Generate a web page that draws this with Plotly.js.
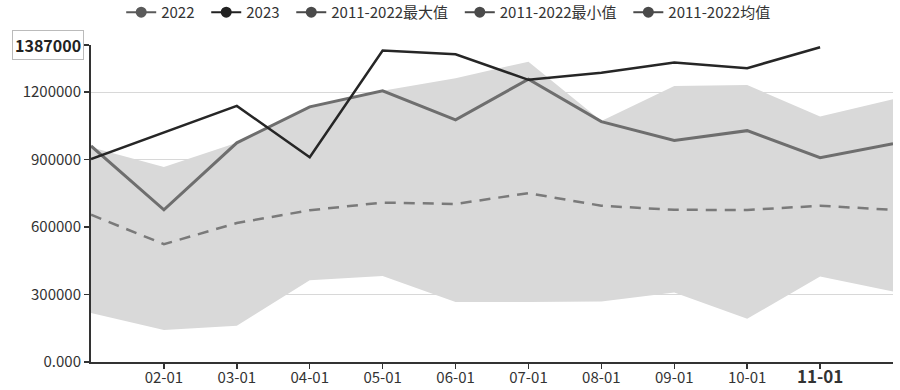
<!DOCTYPE html>
<html><head><meta charset="utf-8">
<script src="https://cdn.plot.ly/plotly-3.0.1.min.js"></script>
<style>html,body{margin:0;padding:0;background:#fff}#c{width:900px;height:390px}</style>
</head><body><div id="c"></div>
<script>
const months = ['01-01','02-01','03-01','04-01','05-01','06-01','07-01','08-01','09-01','10-01','11-01','12-01'];
const tickMonths = ['02-01','03-01','04-01','05-01','06-01','07-01','08-01','09-01','10-01','11-01'];
const tickLabels = ['02-01','03-01','04-01','05-01','06-01','07-01','08-01','09-01','10-01','<span style="font-size:17px;font-weight:bold">11-01</span>'];
const s2022 = [961000,677000,975000,1135000,1206000,1077000,1258000,1069000,985000,1029000,909000,971000];
const s2023 = [903000,1022000,1139000,911000,1385000,1369000,1255000,1287000,1332000,1307000,1400000,null];
const sMax  = [955000,867000,975000,1138000,1206000,1262000,1336000,1072000,1228000,1232000,1092000,1169000];
const sMin  = [218000,142000,161000,364000,383000,267000,267000,269000,309000,192000,380000,314000];
const sMean = [655000,524000,618000,675000,709000,703000,751000,695000,677000,676000,695000,677000];
const yTicks = [0,300000,600000,900000,1200000,1410000];
const yTickLabels = ['0.000','300000','600000','900000','1200000',''];
const legendNames = ['2022','2023','2011-2022最大值','2011-2022最小值','2011-2022均值'];
const legendColors = ['#5a5a5a','#222222','#4a4a4a','#4a4a4a','#4a4a4a'];
const pointerLabel = '1387000';

const FONT = "'Noto Sans CJK SC','Noto Sans',sans-serif";
const traces = [
  {x: months, y: sMin, type:'scatter', mode:'lines', line:{width:0, color:'#d9d9d9'}, showlegend:false, hoverinfo:'skip'},
  {x: months, y: sMax, type:'scatter', mode:'lines', line:{width:0, color:'#d9d9d9'}, fill:'tonexty', fillcolor:'#d9d9d9', showlegend:false, hoverinfo:'skip'},
  {x: months, y: sMean, type:'scatter', mode:'lines', line:{width:2.5, color:'#7a7a7a', dash:'11px,8px'}, showlegend:false},
  {x: months, y: s2022, type:'scatter', mode:'lines', line:{width:3, color:'#6e6e6e'}, showlegend:false},
  {x: months, y: s2023, type:'scatter', mode:'lines', line:{width:2.5, color:'#262626'}, showlegend:false, connectgaps:false},
];
legendNames.forEach((n,i)=>{
  const label = i < legendNames.length-1 ? n + '\u00a0\u00a0' : n;
  traces.push({x:[null], y:[null], type:'scatter', mode:'lines+markers', name:label,
    line:{color:legendColors[i], width:2}, marker:{color:legendColors[i], size:11}, showlegend:true});
});

const layout = {
  width:900, height:390,
  margin:{l:91, r:7, t:45, b:28},
  paper_bgcolor:'#fff', plot_bgcolor:'#fff',
  font:{family:FONT, color:'#333', size:15},
  showlegend:true,
  legend:{orientation:'h', xref:'container', x:0.498, xanchor:'center', yref:'container', y:0.968, yanchor:'middle',
    font:{size:15, color:'#333', family:FONT}, itemwidth:30, traceorder:'normal'},
  xaxis:{type:'category', categoryorder:'array', categoryarray:months, range:[0,11],
    tickmode:'array', tickvals:tickMonths, ticktext:tickLabels,
    ticks:'outside', ticklen:5, tickwidth:1.5, tickcolor:'#333', ticklabelstandoff:-4,
    showline:true, linecolor:'#333', linewidth:2, showgrid:false, zeroline:false,
    tickfont:{size:15, color:'#333', family:FONT}},
  yaxis:{range:[0,1410000], tickmode:'array', tickvals:yTicks, ticktext:yTickLabels,
    ticks:'outside', ticklen:5, tickwidth:1.5, tickcolor:'#333',
    showline:true, linecolor:'#333', linewidth:2, showgrid:true, gridcolor:'#d8d8d8', gridwidth:1, zeroline:false,
    tickfont:{size:15, color:'#333', family:FONT}},
  annotations:[{xref:'paper', x:0, xanchor:'right', xshift:-7, yref:'y', y:1410000, yanchor:'middle',
    text:'<b>'+pointerLabel+'</b>', showarrow:false, font:{size:16, color:'#222', family:FONT},
    bgcolor:'#fff', bordercolor:'#bbb', borderwidth:1, borderpad:2}]
};
Plotly.newPlot('c', traces, layout, {displayModeBar:false, staticPlot:true});
</script></body></html>
